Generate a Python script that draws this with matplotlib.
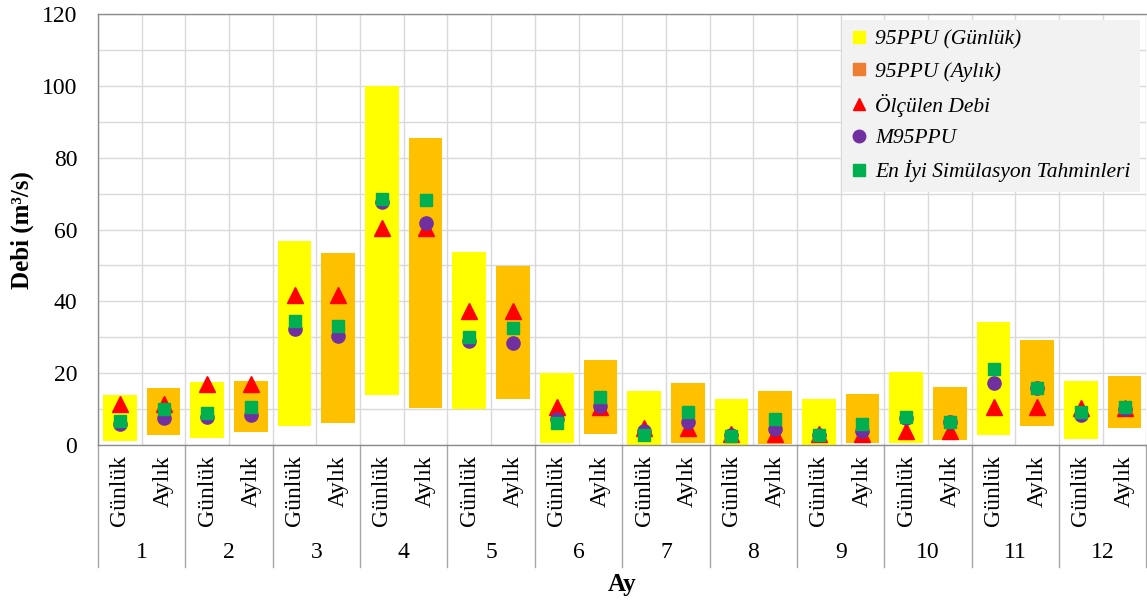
import numpy as np
import matplotlib
matplotlib.use("Agg")
import matplotlib.pyplot as plt
from matplotlib.lines import Line2D
from matplotlib.transforms import blended_transform_factory

plt.rcParams['font.family'] = ['Liberation Serif', 'DejaVu Serif']

months = ['1', '2', '3', '4', '5', '6', '7', '8', '9', '10', '11', '12']
sub_labels = ['Günlük', 'Aylık']

lower_g = [1.1, 1.9, 5.4, 14.0, 10.0, 0.5, 0.0, 0.0, 0.0, 0.6, 2.8, 1.8]
upper_g = [13.8, 17.6, 56.7, 100.0, 53.6, 20.0, 15.1, 12.8, 12.9, 20.2, 34.3, 17.9]
lower_a = [2.8, 3.5, 6.0, 10.2, 12.8, 3.0, 0.5, 0.3, 0.5, 1.4, 5.3, 4.6]
upper_a = [15.8, 17.8, 53.5, 85.4, 49.9, 23.7, 17.4, 15.1, 14.1, 16.2, 29.2, 19.2]

observed = [11.4, 17.1, 41.8, 60.4, 37.4, 10.6, 4.7, 3.2, 3.0, 3.8, 10.7, 10.4]

m95_g = [5.8, 7.9, 32.3, 67.6, 29.0, 7.1, 3.9, 2.8, 2.8, 7.4, 17.4, 8.4]
m95_a = [7.6, 8.4, 30.4, 61.7, 28.5, 10.9, 6.5, 4.5, 3.9, 6.5, 16.0, 9.9]
best_g = [6.7, 8.8, 34.6, 68.4, 30.2, 6.2, 2.8, 2.5, 2.8, 7.9, 21.2, 9.3]
best_a = [9.9, 10.7, 33.1, 68.1, 32.5, 13.5, 9.1, 7.2, 5.8, 6.3, 15.8, 10.5]

fig = plt.figure(figsize=(11.47, 6.02), dpi=100)
ax = fig.add_axes([98/1147, 1-445/602, 1-98/1147 - 0.0005, (445-14)/602])

n = len(months)
xg = np.arange(n) * 2
xa = xg + 1
w = 0.77

ax.bar(xg, np.array(upper_g) - np.array(lower_g), bottom=lower_g, width=w,
       color='#FFFF00', zorder=2)
ax.bar(xa, np.array(upper_a) - np.array(lower_a), bottom=lower_a, width=w,
       color='#FFC000', zorder=2)

xall = np.ravel(np.column_stack([xg, xa]))
obs_all = np.repeat(observed, 2)
m95_all = np.ravel(np.column_stack([m95_g, m95_a]))
best_all = np.ravel(np.column_stack([best_g, best_a]))

ax.plot(xall, obs_all, linestyle='none', marker='^', ms=11, color='#FF0000', zorder=3)
ax.plot(xall, m95_all, linestyle='none', marker='o', ms=9.5, color='#7030A0', zorder=4)
ax.plot(xall, best_all, linestyle='none', marker='s', ms=8, color='#00B050', zorder=5)

ax.set_xlim(-0.5, 2 * n - 0.5)
ax.set_ylim(0, 120)
ax.set_yticks(np.arange(0, 121, 20))
ax.set_yticks(np.arange(10, 120, 20), minor=True)
ax.set_xticks(np.arange(-0.5, 2 * n, 1))
ax.set_xticklabels([])
ax.tick_params(axis='both', which='both', length=0)
ax.tick_params(axis='y', labelsize=17, pad=15)
ax.grid(True, which='both', color='#D9D9D9', linewidth=1, zorder=0)
ax.set_axisbelow(True)
for s in ['left', 'bottom', 'top']:
    ax.spines[s].set_color('#8C8C8C')
    ax.spines[s].set_linewidth(1)
ax.spines['right'].set_visible(False)

trans = blended_transform_factory(ax.transData, fig.transFigure)
fy = lambda py: 1 - py / 602
for i in range(n):
    ax.text(xg[i], fy(455), sub_labels[0], rotation=90, ha='center', va='top',
            fontsize=17, transform=trans)
    ax.text(xa[i], fy(455), sub_labels[1], rotation=90, ha='center', va='top',
            fontsize=17, transform=trans)
    ax.text(xg[i] + 0.5, fy(553), months[i], ha='center', va='center',
            fontsize=17, transform=trans)
for b in np.arange(-0.5, 2 * n, 2):
    ax.add_line(Line2D([b, b], [fy(445), fy(567)], transform=trans,
                       color='#A6A6A6', linewidth=1, clip_on=False))

fig.text(622/1147, fy(585), 'Ay', ha='center', va='center', fontsize=18,
         fontweight='bold')
fig.text(22/1147, fy(230), 'Debi (m³/s)', ha='center', va='center', fontsize=18,
         fontweight='bold', rotation=90)

handles = [
    Line2D([], [], linestyle='none', marker='s', ms=9, color='#FFFF00'),
    Line2D([], [], linestyle='none', marker='s', ms=9, color='#ED7D31'),
    Line2D([], [], linestyle='none', marker='^', ms=9, color='#FF0000'),
    Line2D([], [], linestyle='none', marker='o', ms=9, color='#7030A0'),
    Line2D([], [], linestyle='none', marker='s', ms=9, color='#00B050'),
]
labels = ['95PPU (Günlük)', '95PPU (Aylık)', 'Ölçülen Debi', 'M95PPU',
          'En İyi Simülasyon Tahminleri']
leg = ax.legend(handles, labels, loc='upper right', bbox_to_anchor=(0.994, 0.986),
                borderaxespad=0,
                prop={'style': 'italic', 'size': 15.5}, frameon=True, fancybox=False,
                facecolor='#F2F2F2', edgecolor='none', framealpha=1,
                handlelength=0.7, handletextpad=0.4, labelspacing=0.55,
                borderpad=0.45)
leg.set_zorder(10)

fig.savefig('out.png', dpi=100)
